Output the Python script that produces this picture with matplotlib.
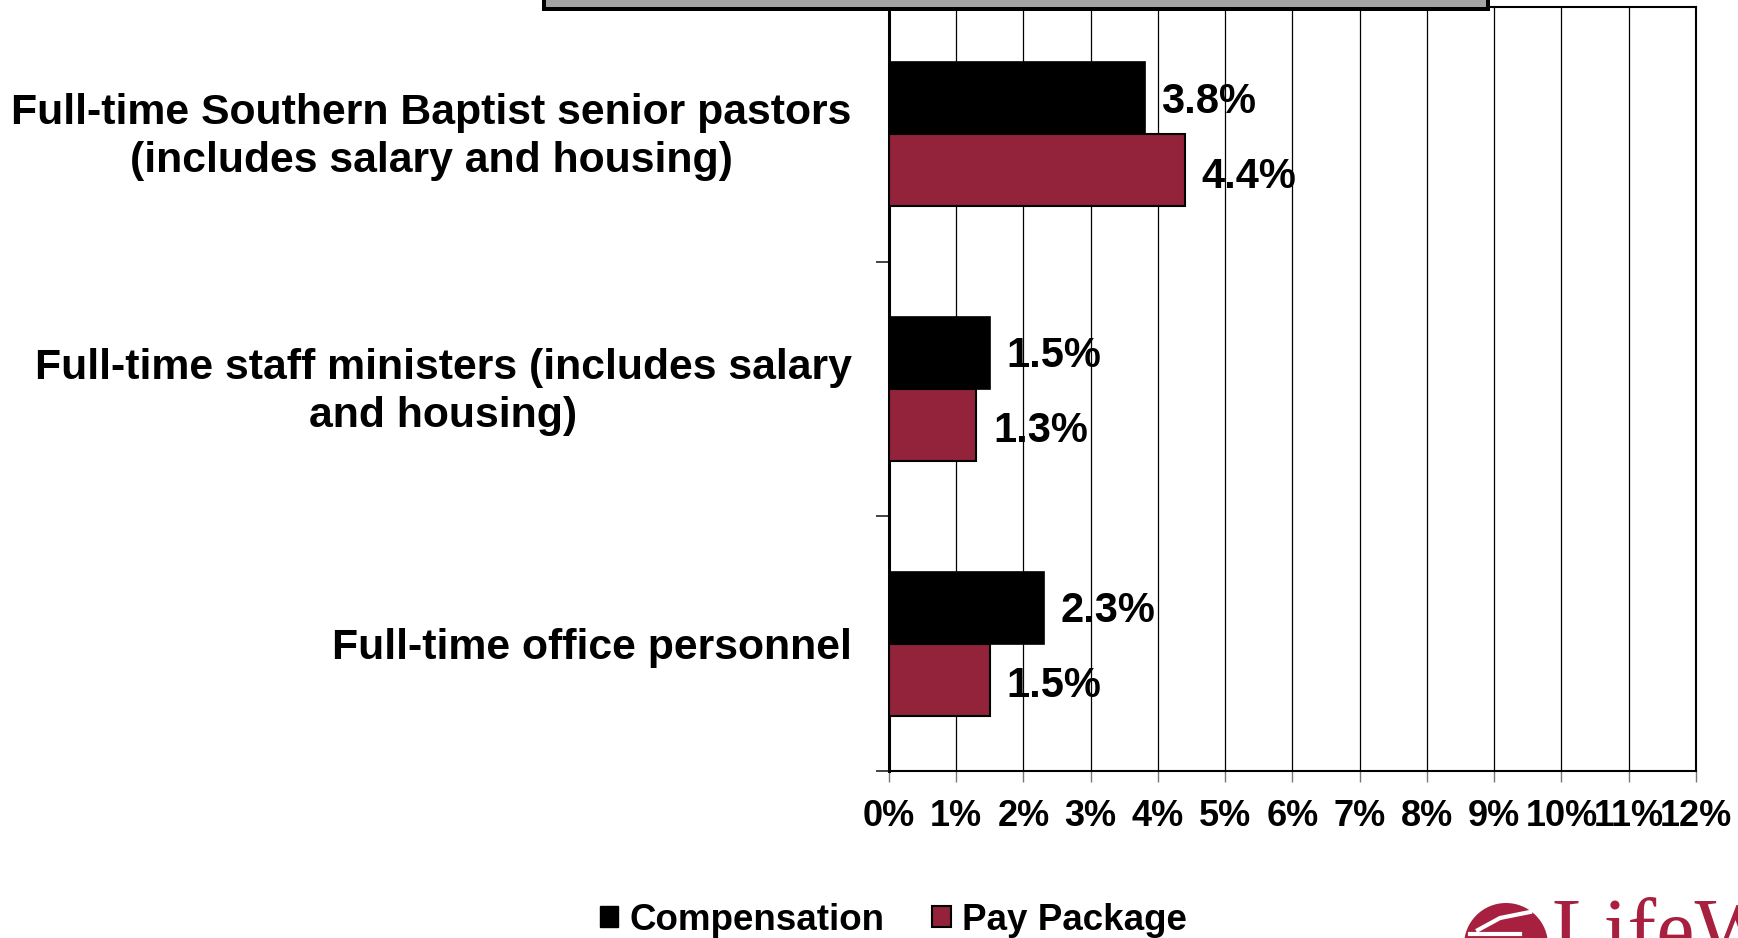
import matplotlib
matplotlib.use("Agg")
import matplotlib.pyplot as plt
from matplotlib.patches import Rectangle, Circle, Patch
from matplotlib.transforms import ScaledTranslation
import numpy as np

plt.rcParams['font.family'] = ['Liberation Sans', 'DejaVu Sans']
plt.rcParams['font.weight'] = 'bold'

# data
categories = [
    "Full-time Southern Baptist senior pastors\n(includes salary and housing)",
    "Full-time staff ministers (includes salary\nand housing)",
    "Full-time office personnel",
]
compensation = [3.8, 1.5, 2.3]
pay_package = [4.4, 1.3, 1.5]
series_names = ["Compensation", "Pay Package"]
x_ticks = list(range(0, 13))
x_tick_labels = [f"{t}%" for t in x_ticks]

BLACK = '#000000'
RED = '#92233a'
LOGO_RED = '#a8203f'
BAR_H = 0.283

fig = plt.figure(figsize=(17.38, 9.38), dpi=100)
ax = fig.add_axes([0.5115, 0.178, 0.4643, 0.8145])

y = np.arange(len(categories)) + 0.5
ax.barh(y - BAR_H / 2, compensation, height=BAR_H, color=BLACK,
        edgecolor='black', linewidth=1.2, zorder=3)
ax.barh(y + BAR_H / 2, pay_package, height=BAR_H, color=RED,
        edgecolor='black', linewidth=1.5, zorder=3)

for yy, v in zip(y - BAR_H / 2, compensation):
    ax.annotate(f"{v:.1f}%", (v, yy), xytext=(12, -2.5), textcoords='offset points',
                va='center', ha='left', fontsize=30, fontweight='bold', zorder=4)
for yy, v in zip(y + BAR_H / 2, pay_package):
    ax.annotate(f"{v:.1f}%", (v, yy), xytext=(12, -4.5), textcoords='offset points',
                va='center', ha='left', fontsize=30, fontweight='bold', zorder=4)

ax.set_xlim(0, 12)
ax.set_ylim(len(categories), 0)

ax.set_xticks(x_ticks)
ax.set_xticklabels(x_tick_labels, fontsize=26, fontweight='bold')
ax.tick_params(axis='x', length=8, width=1, color='#777777', pad=12)

ax.set_yticks(y)
ax.set_yticklabels(categories, fontsize=30.8, fontweight='bold',
                   multialignment='center', linespacing=1.25)
ax.tick_params(axis='y', which='major', length=0, pad=27)
ax.set_yticks(np.arange(len(categories) + 1), minor=True)
ax.tick_params(axis='y', which='minor', length=9.5, width=1.2, color='#222222')

# two-line labels sit a little higher in the reference
for lab in ax.get_yticklabels():
    if '\n' in lab.get_text():
        lab.set_transform(lab.get_transform() + ScaledTranslation(0, 4 / 72, fig.dpi_scale_trans))

ax.set_axisbelow(True)
ax.xaxis.grid(True, color='black', linewidth=0.9)

ax.spines['left'].set_linewidth(2.2)
for s in ['top', 'right', 'bottom']:
    ax.spines[s].set_linewidth(1.5)
for s in ax.spines.values():
    s.set_color('black')

# decorations: cut-off title box at the top and the logo at bottom right
deco = fig.add_axes([0, 0, 1, 1])
deco.set_xlim(0, 1738)
deco.set_ylim(938, 0)
deco.axis('off')
deco.add_patch(Rectangle((542, -30), 948, 41, facecolor='black', edgecolor='none'))
deco.add_patch(Rectangle((546, -30), 940, 37, facecolor='#a3a3a3', edgecolor='none'))
deco.add_patch(Circle((1506, 945), 42, facecolor=LOGO_RED, edgecolor='none'))
deco.plot([1478, 1500, 1530], [930, 918, 912], color='white', lw=3)
deco.plot([1470, 1520], [934, 934], color='white', lw=3)
deco.text(1552, 958, "LifeWay", fontsize=62, color=LOGO_RED,
          family='Liberation Serif', fontweight='normal', va='baseline', ha='left')

handles = [Patch(facecolor=BLACK, edgecolor='black'),
           Patch(facecolor=RED, edgecolor='black', linewidth=1.5)]
fig.legend(handles, series_names, loc='center', bbox_to_anchor=(0.514, 0.019),
           ncol=2, frameon=False, prop={'size': 26.5, 'weight': 'bold'},
           handlelength=0.5, handleheight=0.5, handletextpad=0.3,
           columnspacing=1.3, borderpad=0)

fig.savefig('out.png', dpi=100)
